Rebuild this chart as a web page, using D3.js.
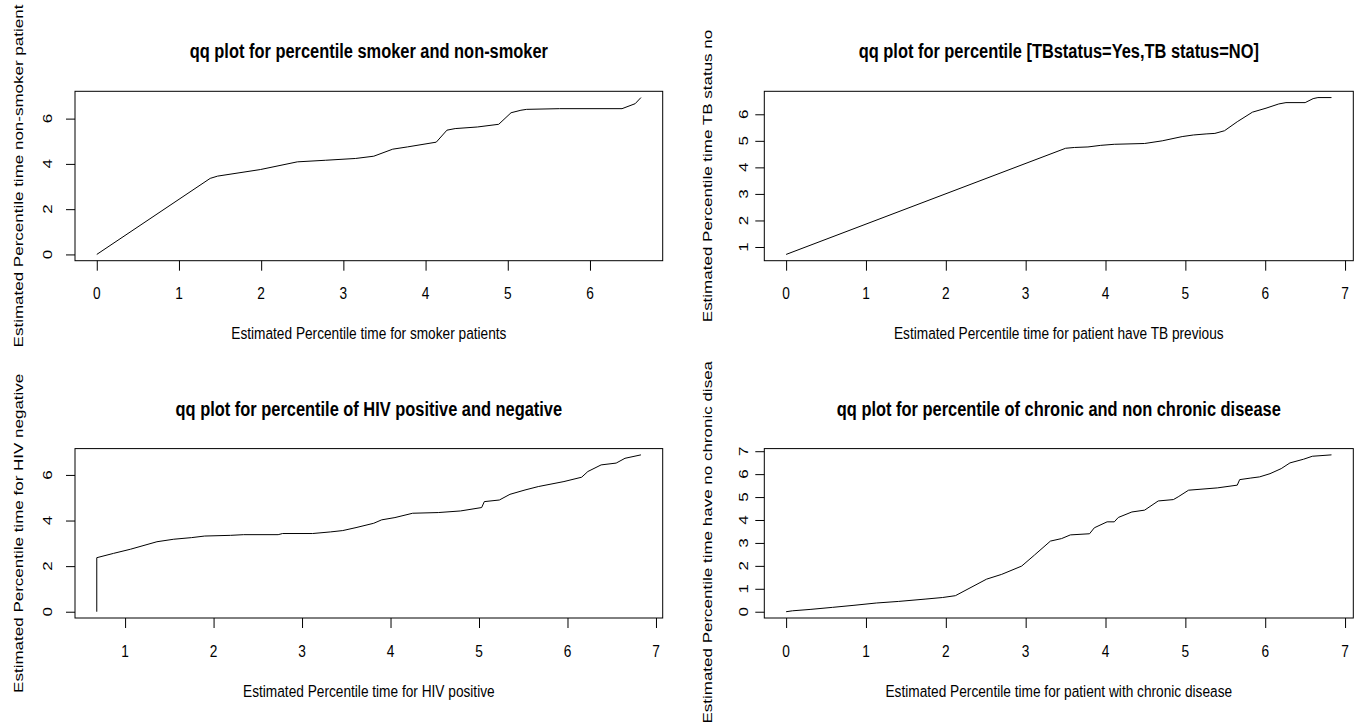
<!DOCTYPE html>
<html>
<head>
<meta charset="utf-8">
<script src="https://cdn.jsdelivr.net/npm/d3@7/dist/d3.min.js"></script>
<style>
  html, body { margin: 0; padding: 0; background: #fff; }
  svg { display: block; }
  text { font-family: "Liberation Sans", Arial, Helvetica, sans-serif; fill: #000; }
</style>
</head>
<body>
<svg id="chart" width="1364" height="723"></svg>
<script>
// Quantile pairs (x = group A percentile time, y = group B percentile time)
const smokerX    = [0, 1.38, 1.47, 1.99, 2.44, 2.78, 3.15, 3.37, 3.60, 3.78, 4.13, 4.26, 4.36, 4.63, 4.89, 5.04, 5.16, 5.23, 5.63, 6.39, 6.55, 6.62];
const nonSmokerY = [0, 3.36, 3.46, 3.75, 4.09, 4.16, 4.24, 4.34, 4.65, 4.75, 4.96, 5.49, 5.56, 5.63, 5.75, 6.26, 6.37, 6.41, 6.44, 6.44, 6.66, 6.93];

const tbYesX = [0, 3.50, 3.61, 3.78, 3.94, 4.11, 4.49, 4.71, 4.96, 5.10, 5.26, 5.37, 5.49, 5.65, 5.84, 6.01, 6.17, 6.26, 6.50, 6.60, 6.66, 6.83];
const tbNoY  = [0.72, 4.72, 4.75, 4.77, 4.83, 4.87, 4.90, 5.00, 5.16, 5.22, 5.26, 5.28, 5.38, 5.72, 6.08, 6.23, 6.39, 6.44, 6.44, 6.59, 6.63, 6.63];

const hivPosX = [0.68, 0.68, 0.87, 1.06, 1.36, 1.55, 1.75, 1.90, 2.19, 2.34, 2.73, 2.78, 3.12, 3.32, 3.46, 3.61, 3.81, 3.90, 4.05, 4.25, 4.54, 4.79, 5.03, 5.06, 5.23, 5.35, 5.52, 5.67, 5.96, 6.16, 6.23, 6.38, 6.55, 6.65, 6.83];
const hivNegY = [0, 2.37, 2.56, 2.74, 3.07, 3.18, 3.25, 3.32, 3.35, 3.38, 3.38, 3.43, 3.43, 3.50, 3.56, 3.69, 3.88, 4.03, 4.13, 4.32, 4.35, 4.42, 4.57, 4.83, 4.90, 5.15, 5.34, 5.49, 5.71, 5.90, 6.15, 6.44, 6.52, 6.73, 6.88];

const chronicX    = [0, 0.08, 0.30, 0.58, 0.85, 1.13, 1.41, 1.74, 1.96, 2.12, 2.51, 2.70, 2.95, 3.11, 3.31, 3.45, 3.56, 3.80, 3.86, 4.02, 4.11, 4.16, 4.33, 4.49, 4.66, 4.85, 4.91, 5.04, 5.40, 5.65, 5.68, 5.82, 5.93, 6.06, 6.20, 6.31, 6.48, 6.59, 6.83];
const nonChronicY = [0, 0.04, 0.10, 0.19, 0.28, 0.38, 0.45, 0.55, 0.62, 0.70, 1.42, 1.63, 1.99, 2.47, 3.08, 3.19, 3.35, 3.40, 3.66, 3.92, 3.92, 4.11, 4.35, 4.43, 4.83, 4.89, 5.01, 5.30, 5.40, 5.52, 5.76, 5.83, 5.88, 6.02, 6.24, 6.49, 6.65, 6.78, 6.84];

// Titles and axis labels
const titles = [
  "qq plot for percentile smoker and non-smoker",
  "qq plot for percentile [TBstatus=Yes,TB status=NO]",
  "qq plot for percentile of HIV positive and negative",
  "qq plot for percentile of chronic and non chronic disease"
];
const xTitles = [
  "Estimated Percentile time for smoker patients",
  "Estimated Percentile time for patient have TB previous",
  "Estimated Percentile time for HIV positive",
  "Estimated Percentile time for patient with chronic disease"
];
const yTitles = [
  "Estimated Percentile time non-smoker patient",
  "Estimated Percentile time TB status no",
  "Estimated Percentile time for HIV negative",
  "Estimated Percentile time have no chronic disease"
];

// Tick values per panel
const xTicks1 = [0, 1, 2, 3, 4, 5, 6];
const yTicks1 = [0, 2, 4, 6];
const xTicks2 = [0, 1, 2, 3, 4, 5, 6, 7];
const yTicks2 = [1, 2, 3, 4, 5, 6];
const xTicks3 = [1, 2, 3, 4, 5, 6, 7];
const yTicks3 = [0, 2, 4, 6];
const xTicks4 = [0, 1, 2, 3, 4, 5, 6, 7];
const yTicks4 = [0, 1, 2, 3, 4, 5, 6, 7];

// Panel layout (plot box and figure cell in px)
const SX = 0.805;      // horizontal glyph squeeze of the output device
const FONT = 17;       // base text size
const panels = [
  { x: smokerX, y: nonSmokerY, xt: xTicks1, yt: yTicks1, box: [75, 91.3, 662.7, 260.7],   cell: [0, 0, 682, 361.5],     yTickX: 52,  yTitleX: 23 },
  { x: tbYesX,  y: tbNoY,      xt: xTicks2, yt: yTicks2, box: [764.3, 91.3, 1353.3, 260.7], cell: [682, 0, 1364, 361.5], yTickX: 748, yTitleX: 712 },
  { x: hivPosX, y: hivNegY,    xt: xTicks3, yt: yTicks3, box: [75, 448.6, 662.7, 618],    cell: [0, 361.5, 682, 723],   yTickX: 52,  yTitleX: 23 },
  { x: chronicX, y: nonChronicY, xt: xTicks4, yt: yTicks4, box: [764.3, 448.6, 1353.3, 618], cell: [682, 361.5, 1364, 723], yTickX: 748, yTitleX: 712 }
];

const svg = d3.select("#chart");
const defs = svg.append("defs");

// R-style 4% axis padding
function padded(vals) {
  const [lo, hi] = d3.extent(vals);
  const p = (hi - lo) * 0.04;
  return [lo - p, hi + p];
}

function label(g, x, y, str, opts = {}) {
  const t = g.append("text")
    .attr("transform", `translate(${x},${y}) scale(${SX},1)` + (opts.rotate ? " rotate(-90)" : ""))
    .attr("text-anchor", "middle")
    .attr("font-size", opts.size || FONT)
    .text(str);
  if (opts.bold) t.attr("font-weight", "bold");
  return t;
}

panels.forEach((p, i) => {
  const [x0, y0, x1, y1] = p.box;
  const [cx0, cy0, cx1, cy1] = p.cell;

  defs.append("clipPath").attr("id", "cell" + i)
    .append("rect").attr("x", cx0).attr("y", cy0).attr("width", cx1 - cx0).attr("height", cy1 - cy0);

  const g = svg.append("g").attr("clip-path", `url(#cell${i})`);

  const xs = d3.scaleLinear().domain(padded(p.x)).range([x0, x1]);
  const ys = d3.scaleLinear().domain(padded(p.y)).range([y1, y0]);

  // tick marks
  const xAxis = g.append("g").attr("transform", `translate(0,${y1})`)
    .call(d3.axisBottom(xs).tickValues(p.xt).tickSize(10).tickFormat(""));
  const yAxis = g.append("g").attr("transform", `translate(${x0},0)`)
    .call(d3.axisLeft(ys).tickValues(p.yt).tickSize(9).tickFormat(""));
  [xAxis, yAxis].forEach(a => {
    a.select(".domain").remove();
    a.selectAll("line").attr("stroke", "#000").attr("stroke-width", 1);
  });

  // tick labels
  p.xt.forEach(v => label(g, xs(v), y1 + 38.5, String(v)));
  p.yt.forEach(v => label(g, p.yTickX, ys(v), String(v), { rotate: true }));

  // plot frame
  g.append("rect")
    .attr("x", x0).attr("y", y0).attr("width", x1 - x0).attr("height", y1 - y0)
    .attr("fill", "none").attr("stroke", "#000").attr("stroke-width", 1);

  // quantile line
  const line = d3.line().x((d, k) => xs(p.x[k])).y(d => ys(d));
  g.append("path").datum(p.y)
    .attr("d", line)
    .attr("fill", "none").attr("stroke", "#000").attr("stroke-width", 1);

  // titles
  const mid = (x0 + x1) / 2;
  label(g, mid, y0 - 33, titles[i], { bold: true, size: FONT * 1.2 });
  label(g, mid, y1 + 78.5, xTitles[i]);
  label(g, p.yTitleX, (y0 + y1) / 2, yTitles[i], { rotate: true });
});
</script>
</body>
</html>
